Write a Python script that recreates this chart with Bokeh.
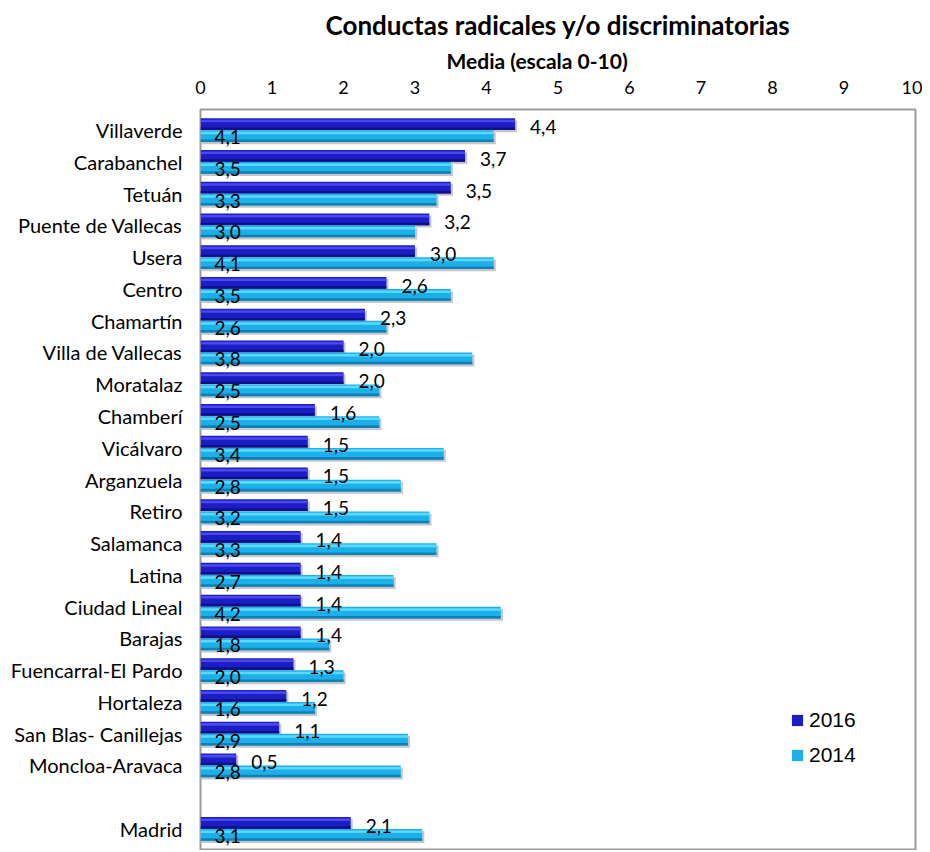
from bokeh.plotting import figure
from bokeh.models import (FactorRange, Range1d, FixedTicker, Title, Legend,
                          LegendItem, ColumnDataSource)
from bokeh.transform import dodge
from bokeh.core.properties import value
from bokeh.embed import file_html
from bokeh.resources import INLINE

# ---------------- data ----------------
districts = ["Villaverde", "Carabanchel", "Tetuán", "Puente de Vallecas", "Usera",
             "Centro", "Chamartín", "Villa de Vallecas", "Moratalaz", "Chamberí",
             "Vicálvaro", "Arganzuela", "Retiro", "Salamanca", "Latina",
             "Ciudad Lineal", "Barajas", "Fuencarral-El Pardo", "Hortaleza",
             "San Blas- Canillejas", "Moncloa-Aravaca", "Madrid"]
v2016 = [4.4, 3.7, 3.5, 3.2, 3.0, 2.6, 2.3, 2.0, 2.0, 1.6, 1.5, 1.5, 1.5, 1.4,
         1.4, 1.4, 1.4, 1.3, 1.2, 1.1, 0.5, 2.1]
v2014 = [4.1, 3.5, 3.3, 3.0, 4.1, 3.5, 2.6, 3.8, 2.5, 2.5, 3.4, 2.8, 3.2, 3.3,
         2.7, 4.2, 1.8, 2.0, 1.6, 2.9, 2.8, 3.1]
x_ticks = list(range(0, 11))
series = ["2016", "2014"]
title_text = "Conductas radicales y/o discriminatorias"
axis_text = "Media (escala 0-10)"

# ---------------- styles ----------------
FONT = "Lato"
C16 = ("#1d1dc4", "#4848f4", "#0f0f86")
C14 = ("#1cb0ea", "#5cd8ff", "#0f80b6")
SHADOW = "#c6c6c6"


def fmt(v):
    return f"{v:.1f}".replace(".", ",")


n = len(districts)
src = ColumnDataSource(dict(
    cat=districts,
    v2016=v2016,
    v2014=v2014,
    s2016=[v + 0.03 for v in v2016],
    s2014=[v + 0.03 for v in v2014],
    l2016=[fmt(v) for v in v2016],
    l2014=[fmt(v) for v in v2014],
    zero=[0] * n,
))

# top-to-bottom order with an empty row before "Madrid"
order = districts[:-1] + [" "] + districts[-1:]
factors = list(reversed(order))

p = figure(width=922, height=850, output_backend="svg", toolbar_location=None,
           y_range=FactorRange(factors=factors, range_padding=0.15,
                               range_padding_units="absolute"),
           x_range=Range1d(0, 10),
           x_axis_location="above", title=None,
           min_border_left=200, min_border_right=7, min_border_top=109,
           min_border_bottom=1)

p.background_fill_color = "white"
p.border_fill_color = "white"
p.outline_line_color = "#9a9a9a"
p.outline_line_width = 2
p.xgrid.visible = False
p.ygrid.visible = False

H = 0.37
D = 0.19
rr = p.y_range

# shadows
p.hbar(y=dodge("cat", D - 0.07, range=rr), left=0, right="s2016", height=H,
       source=src, fill_color=SHADOW, line_color=None)
p.hbar(y=dodge("cat", -D - 0.07, range=rr), left=0, right="s2014", height=H,
       source=src, fill_color=SHADOW, line_color=None)

# 2016 bars
r16 = p.hbar(y=dodge("cat", D, range=rr), left=0, right="v2016", height=H,
             source=src, fill_color=C16[0], line_color=None)
p.hbar(y=dodge("cat", D + 0.1, range=rr), left=0, right="v2016", height=0.08,
       source=src, fill_color=C16[1], line_color=None)
p.hbar(y=dodge("cat", D - 0.145, range=rr), left=0, right="v2016", height=0.08,
       source=src, fill_color=C16[2], line_color=None)

# 2014 bars
r14 = p.hbar(y=dodge("cat", -D, range=rr), left=0, right="v2014", height=H,
             source=src, fill_color=C14[0], line_color=None)
p.hbar(y=dodge("cat", -D + 0.1, range=rr), left=0, right="v2014", height=0.08,
       source=src, fill_color=C14[1], line_color=None)
p.hbar(y=dodge("cat", -D - 0.145, range=rr), left=0, right="v2014", height=0.08,
       source=src, fill_color=C14[2], line_color=None)

# value labels
p.text(x="v2016", y=dodge("cat", D, range=rr), text="l2016", source=src,
       x_offset=15, y_offset=3, text_baseline="middle", text_align="left",
       text_font=value(FONT), text_font_size="19px", text_color="black")
p.text(x="zero", y=dodge("cat", -D, range=rr), text="l2014", source=src,
       x_offset=14, y_offset=1, text_baseline="middle", text_align="left",
       text_font=value(FONT), text_font_size="19px", text_color="black")

# axes
xa = p.xaxis[0]
xa.ticker = FixedTicker(ticks=x_ticks)
xa.axis_line_color = None
xa.major_tick_line_color = None
xa.minor_tick_line_color = None
xa.major_tick_out = 0
xa.major_tick_in = 0
xa.major_label_standoff = 16
xa.major_label_text_font = FONT
xa.major_label_text_font_size = "18px"
xa.major_label_text_color = "black"

ya = p.yaxis[0]
ya.axis_line_color = None
ya.major_tick_line_color = None
ya.minor_tick_line_color = None
ya.major_tick_out = 0
ya.major_tick_in = 0
ya.major_label_standoff = 18
ya.major_label_text_font = FONT
ya.major_label_text_font_size = "20px"
ya.major_label_text_color = "black"

# titles
p.add_layout(Title(text=axis_text, align="left", offset=246, standoff=9,
                   text_font=FONT, text_font_size="21px",
                   text_font_style="bold", text_color="black"), "above")
p.add_layout(Title(text=title_text, align="center", standoff=2,
                   text_font=FONT, text_font_size="26px",
                   text_font_style="bold", text_color="black"), "above")

# legend
legend = Legend(items=[LegendItem(label=series[0], renderers=[r16]),
                       LegendItem(label=series[1], renderers=[r14])],
                location=(590, 82), orientation="vertical",
                glyph_width=14, glyph_height=14, label_height=24,
                label_standoff=5, spacing=11, padding=0, margin=0,
                border_line_color=None, background_fill_alpha=0,
                label_text_font="Liberation Sans", label_text_font_size="21px",
                label_text_color="black")
p.add_layout(legend)

open("out.html", "w").write(file_html(p, INLINE))
